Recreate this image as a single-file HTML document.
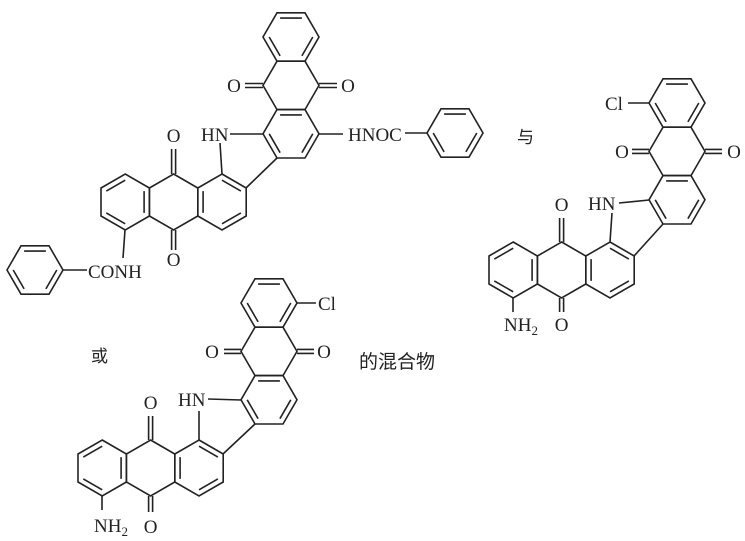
<!DOCTYPE html>
<html><head><meta charset="utf-8"><style>
html,body{margin:0;padding:0;background:#fff}
svg{display:block}
text{font-family:"Liberation Serif","Noto Serif CJK SC",serif;fill:#222;font-size:19px}
.c{font-family:"Liberation Serif","Noto Sans CJK SC",serif;font-size:17px}
</style></head><body>
<svg width="745" height="541" viewBox="0 0 745 541" xmlns="http://www.w3.org/2000/svg">
<defs>
<g id="hf"><polygon points="-28,0 -14,-24.2 14,-24.2 28,0 14,24.2 -14,24.2" fill="none"/><path d="M-10.9,-18.9L10.9,-18.9M21.8,0L10.9,18.9M-10.9,18.9L-21.8,0"/></g>
<g id="hq"><polygon points="-28,0 -14,-24.2 14,-24.2 28,0 14,24.2 -14,24.2" fill="none"/></g>
<g id="pa"><polygon points="0,-28 24.2,-14 24.2,14 0,28 -24.2,14 -24.2,-14" fill="none"/><path d="M0,-21.8L-18.9,-10.9M18.9,-10.9L18.9,10.9M0,21.8L-18.9,10.9"/></g>
<g id="pb"><polygon points="0,-28 24.2,-14 24.2,14 0,28 -24.2,14 -24.2,-14" fill="none"/><path d="M-18.9,-10.9L-18.9,10.9M0,-21.8L18.9,-10.9M18.9,10.9L0,21.8"/></g>
<g id="p0"><polygon points="0,-28 24.2,-14 24.2,14 0,28 -24.2,14 -24.2,-14" fill="none"/></g>
</defs>
<g stroke="#222" stroke-width="1.6" fill="none">
<!-- molecule 1 -->
<use href="#hf" x="291" y="37"/>
<use href="#hq" x="291" y="85.4"/>
<use href="#hf" x="291" y="133.8"/>
<path d="M263,83.5H245M263,87.5H245M319,83.5H337M319,87.5H337"/>
<path d="M230,134H263M220,143L222,174M277,158L246,188M319,134H343"/>
<use href="#pb" x="222" y="202"/>
<use href="#p0" x="173.6" y="202"/>
<use href="#pa" x="125.2" y="202"/>
<path d="M171.6,174V149M175.6,174V149M171.6,230V250M175.6,230V250M125,230L123,258"/>
<use href="#hf" x="35" y="270"/>
<path d="M63,270H87"/>
<use href="#hf" x="455" y="133"/>
<path d="M405,133H427"/>
<!-- molecule 2 -->
<use href="#hf" x="677" y="103"/>
<use href="#hq" x="677" y="151.4"/>
<use href="#hf" x="677" y="199.8"/>
<path d="M628,103H649M649,149.4H632M649,153.4H632M705,149.4H722M705,153.4H722"/>
<path d="M619,203L649,200M663,224L634,256M612,213L610,242"/>
<use href="#pb" x="610" y="270"/>
<use href="#p0" x="561.6" y="270"/>
<use href="#pa" x="513.2" y="270"/>
<path d="M559.6,242V218M563.6,242V218M559.6,298V312M563.6,298V312M513,298V312"/>
<!-- molecule 3 -->
<use href="#hf" x="269" y="303"/>
<use href="#hq" x="269" y="351.4"/>
<use href="#hf" x="269" y="399.8"/>
<path d="M297,303H316M241,349.4H224M241,353.4H224M297,349.4H314M297,353.4H314"/>
<path d="M208,399L241,400M199,411L199,440M255,424L223,454"/>
<use href="#pb" x="199" y="468"/>
<use href="#p0" x="150.6" y="468"/>
<use href="#pa" x="102.2" y="468"/>
<path d="M148.6,440V416M152.6,440V416M148.6,496V512M152.6,496V512M102,496V510"/>
</g>
<!-- labels mol1 -->
<text x="234" y="92" text-anchor="middle">O</text>
<text x="348" y="92" text-anchor="middle">O</text>
<text x="201" y="141">HN</text>
<text x="348" y="141">HNOC</text>
<text x="173.6" y="142" text-anchor="middle">O</text>
<text x="173.6" y="266" text-anchor="middle">O</text>
<text x="88" y="278">CONH</text>
<!-- mol2 -->
<text x="605" y="110">Cl</text>
<text x="622" y="158" text-anchor="middle">O</text>
<text x="734" y="158" text-anchor="middle">O</text>
<text x="588" y="210">HN</text>
<text x="561.6" y="211" text-anchor="middle">O</text>
<text x="561.6" y="331" text-anchor="middle">O</text>
<text x="504" y="331">NH<tspan font-size="13" dy="4">2</tspan></text>
<text class="c" x="517" y="143">与</text>
<!-- mol3 -->
<text x="318" y="310">Cl</text>
<text x="212" y="358" text-anchor="middle">O</text>
<text x="324" y="358" text-anchor="middle">O</text>
<text x="178" y="406">HN</text>
<text x="150.6" y="409" text-anchor="middle">O</text>
<text x="150.6" y="533" text-anchor="middle">O</text>
<text x="94" y="532">NH<tspan font-size="13" dy="4">2</tspan></text>
<text class="c" x="91" y="362">或</text>
<text class="c" x="359" y="368" style="font-size:19px">的混合物</text>
</svg>
</body></html>
